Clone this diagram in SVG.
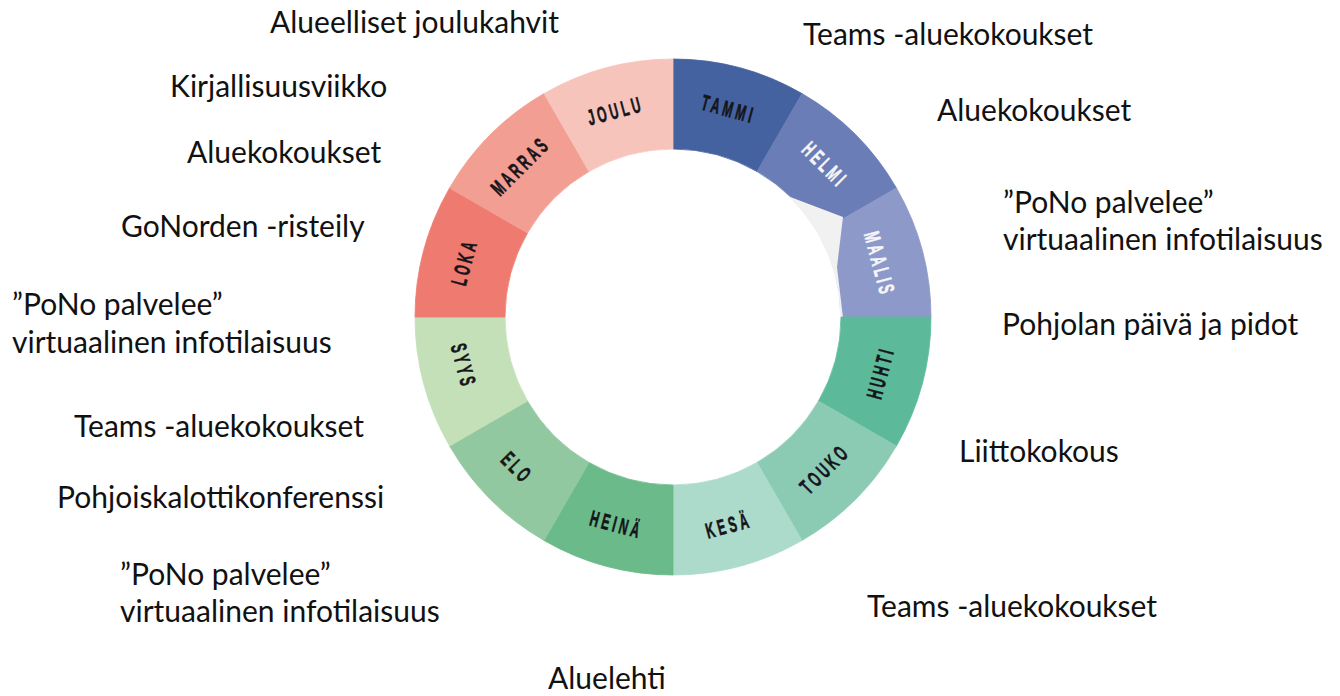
<svg xmlns="http://www.w3.org/2000/svg" width="1340" height="696" viewBox="0 0 1340 696">
<style>
.seg{stroke-width:0.8}
.m{font-family:"Liberation Sans",Arial,sans-serif;font-weight:bold;font-size:22px;letter-spacing:6px;text-anchor:middle;dominant-baseline:central;fill:#15151a;stroke:#15151a;stroke-width:0.6}
.w{fill:#f6f6f8;stroke:#f6f6f8}
.ev{font-family:Lato,"Open Sans",sans-serif;font-size:30px;fill:#111}
</style>
<rect width="1340" height="696" fill="#fff"/>
<g id="ring">
<g id="tammi"><path class="seg" fill="#4562a0" stroke="#4562a0" d="M673,59 A258,258 0 0 1 802,93.57 L757,171.51 A168,168 0 0 0 673,149 Z"/><text class="m" transform="translate(728.6,109.3) rotate(15) scale(0.55,1)">TAMMI</text></g>
<g id="helmi"><path class="seg" fill="#6a7db6" stroke="#6a7db6" d="M802,93.57 A258,258 0 0 1 896.43,188 L818.49,233 A168,168 0 0 0 757,171.51 Z"/></g>
<g id="maalis"><path class="seg" fill="#8d99c9" stroke="#8d99c9" d="M896.43,188 A258,258 0 0 1 931,317 L841,317 A168,168 0 0 0 818.49,233 Z"/></g>
<path id="shade" fill="#f1f1f1" d="M789,196.5 L843,217 L837,267 L843,318 L840,318 A167,167 0 0 0 791.1,198.9 Z"/>
<g id="helmi-label"><text class="m w" transform="translate(825,165) rotate(45) scale(0.55,1)">HELMI</text></g>
<g id="maalis-label"><text class="m w" transform="translate(879.5,264) rotate(75) scale(0.55,1)">MAALIS</text></g>
<g id="huhti"><path class="seg" fill="#5cba9b" stroke="#5cba9b" d="M931,317 A258,258 0 0 1 896.43,446 L818.49,401 A168,168 0 0 0 841,317 Z"/><text class="m" transform="translate(880.7,372.6) rotate(-75) scale(0.55,1)">HUHTI</text></g>
<g id="touko"><path class="seg" fill="#8bcbb4" stroke="#8bcbb4" d="M896.43,446 A258,258 0 0 1 802,540.43 L757,462.49 A168,168 0 0 0 818.49,401 Z"/><text class="m" transform="translate(825,469) rotate(-45) scale(0.55,1)">TOUKO</text></g>
<g id="kesa"><path class="seg" fill="#acdacb" stroke="#acdacb" d="M802,540.43 A258,258 0 0 1 673,575 L673,485 A168,168 0 0 0 757,462.49 Z"/><text class="m" transform="translate(728.6,525.5) rotate(-15) scale(0.55,1)">KESÄ</text></g>
<g id="heina"><path class="seg" fill="#6bba89" stroke="#6bba89" d="M673,575 A258,258 0 0 1 544,540.43 L589,462.49 A168,168 0 0 0 673,485 Z"/><text class="m" transform="translate(616.5,524.7) rotate(15) scale(0.55,1)">HEINÄ</text></g>
<g id="elo"><path class="seg" fill="#92c8a0" stroke="#92c8a0" d="M544,540.43 A258,258 0 0 1 449.57,446 L527.51,401 A168,168 0 0 0 589,462.49 Z"/><text class="m" transform="translate(517,468) rotate(45) scale(0.55,1)">ELO</text></g>
<g id="syys"><path class="seg" fill="#c4e0b8" stroke="#c4e0b8" d="M449.57,446 A258,258 0 0 1 415,317 L505,317 A168,168 0 0 0 527.51,401 Z"/><text class="m" transform="translate(463.5,366) rotate(75) scale(0.55,1)">SYYS</text></g>
<g id="loka"><path class="seg" fill="#ef7b70" stroke="#ef7b70" d="M415,317 A258,258 0 0 1 449.57,188 L527.51,233 A168,168 0 0 0 505,317 Z"/><text class="m" transform="translate(464.5,262) rotate(-75) scale(0.55,1)">LOKA</text></g>
<g id="marras"><path class="seg" fill="#f29e93" stroke="#f29e93" d="M449.57,188 A258,258 0 0 1 544,93.57 L589,171.51 A168,168 0 0 0 527.51,233 Z"/><text class="m" transform="translate(520.5,166) rotate(-45) scale(0.55,1)">MARRAS</text></g>
<g id="joulu"><path class="seg" fill="#f7c4bb" stroke="#f7c4bb" d="M544,93.57 A258,258 0 0 1 673,59 L673,149 A168,168 0 0 0 589,171.51 Z"/><text class="m" transform="translate(615.5,111) rotate(-15) scale(0.55,1)">JOULU</text></g>
</g>
<g id="events-left">
<text class="ev" x="270" y="33">Alueelliset joulukahvit</text>
<text class="ev" x="170" y="97">Kirjallisuusviikko</text>
<text class="ev" x="187" y="163">Aluekokoukset</text>
<text class="ev" x="121" y="237">GoNorden -risteily</text>
<text class="ev" x="12" y="315">”PoNo palvelee”</text>
<text class="ev" x="12" y="353">virtuaalinen infotilaisuus</text>
<text class="ev" x="74" y="437">Teams -aluekokoukset</text>
<text class="ev" x="57" y="508">Pohjoiskalottikonferenssi</text>
<text class="ev" x="120" y="585">”PoNo palvelee”</text>
<text class="ev" x="120" y="622">virtuaalinen infotilaisuus</text>
<text class="ev" x="548" y="689">Aluelehti</text>
</g>
<g id="events-right">
<text class="ev" x="803" y="45">Teams -aluekokoukset</text>
<text class="ev" x="937" y="121">Aluekokoukset</text>
<text class="ev" x="1003" y="213">”PoNo palvelee”</text>
<text class="ev" x="1003" y="250">virtuaalinen infotilaisuus</text>
<text class="ev" x="1002" y="335">Pohjolan päivä ja pidot</text>
<text class="ev" x="959" y="462">Liittokokous</text>
<text class="ev" x="867" y="617">Teams -aluekokoukset</text>
</g>
</svg>
